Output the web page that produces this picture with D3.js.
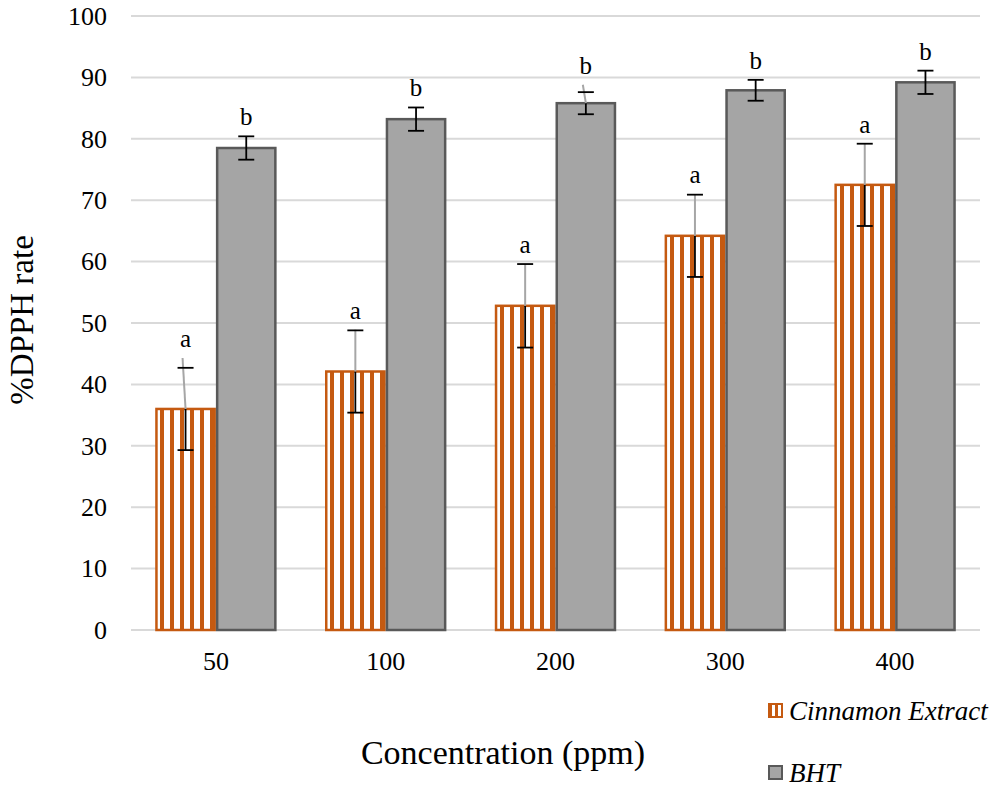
<!DOCTYPE html>
<html>
<head>
<meta charset="utf-8">
<script src="https://cdn.jsdelivr.net/npm/d3@7"></script>
<style>
  body { margin: 0; background: #fff; }
</style>
</head>
<body>
<svg></svg>
<script>
var concentrations = ["50", "100", "200", "300", "400"];
var seriesNames = ["Cinnamon Extract", "BHT"];
var cinnamon = [36.0, 42.1, 52.8, 64.2, 72.5];
var cinnamonErr = [6.7, 6.7, 6.8, 6.7, 6.7];
var cinnamonGrayTop = [44.3, 48.9, 59.6, 71.0, 79.2];
var bht = [78.5, 83.2, 85.8, 87.9, 89.2];
var bhtErr = [1.9, 1.9, 1.8, 1.7, 1.9];
var bhtGrayTop = [null, null, 88.8, null, null];
var cinnamonLetters = ["a", "a", "a", "a", "a"];
var bhtLetters = ["b", "b", "b", "b", "b"];
var yTicks = [0, 10, 20, 30, 40, 50, 60, 70, 80, 90, 100];

var width = 996, height = 792;
var margin = {top: 16, right: 16, bottom: 162, left: 131};
var serif = "Liberation Serif";

var svg = d3.select("svg")
    .attr("width", width)
    .attr("height", height)
    .attr("font-family", serif);

var defs = svg.append("defs");
var pat = defs.append("pattern")
    .attr("id", "stripes")
    .attr("patternUnits", "userSpaceOnUse")
    .attr("width", 10)
    .attr("height", 10);
pat.append("rect").attr("width", 10).attr("height", 10).attr("fill", "#fff");
pat.append("rect").attr("x", 0).attr("width", 4).attr("height", 10).attr("fill", "#C55A11");

var pat2 = defs.append("pattern")
    .attr("id", "stripesLegend")
    .attr("patternUnits", "userSpaceOnUse")
    .attr("width", 6)
    .attr("height", 10);
pat2.append("rect").attr("width", 6).attr("height", 10).attr("fill", "#fff");
pat2.append("rect").attr("width", 3).attr("height", 10).attr("fill", "#C55A11");

var x0 = d3.scaleBand()
    .domain(concentrations)
    .range([margin.left, width - margin.right])
    .paddingInner(0.285)
    .paddingOuter(0.1425);

var x1 = d3.scaleBand()
    .domain(seriesNames)
    .range([0, x0.bandwidth()]);

var y = d3.scaleLinear()
    .domain([0, 100])
    .range([height - margin.bottom, margin.top]);

// gridlines
svg.append("g")
    .selectAll("line")
    .data(yTicks)
    .enter()
    .append("line")
    .attr("x1", margin.left)
    .attr("x2", width - margin.right)
    .attr("y1", function (d) { return y(d); })
    .attr("y2", function (d) { return y(d); })
    .attr("stroke", "#D9D9D9")
    .attr("stroke-width", 2);

// y tick labels
svg.append("g")
    .selectAll("text")
    .data(yTicks)
    .enter()
    .append("text")
    .attr("x", 107)
    .attr("y", function (d) { return y(d); })
    .attr("dy", "0.34em")
    .attr("text-anchor", "end")
    .attr("font-family", serif)
    .attr("font-size", 26)
    .text(function (d) { return d; });

// x tick labels
svg.append("g")
    .selectAll("text")
    .data(concentrations)
    .enter()
    .append("text")
    .attr("x", function (d) { return x0(d) + x0.bandwidth() / 2; })
    .attr("y", 670)
    .attr("text-anchor", "middle")
    .attr("font-family", serif)
    .attr("font-size", 26)
    .text(function (d) { return d; });

var rows = concentrations.map(function (c, i) {
    return [
        {cat: c, key: seriesNames[0], v: cinnamon[i], err: cinnamonErr[i], gray: cinnamonGrayTop[i], letter: cinnamonLetters[i]},
        {cat: c, key: seriesNames[1], v: bht[i], err: bhtErr[i], gray: bhtGrayTop[i], letter: bhtLetters[i]}
    ];
});
var flat = d3.merge(rows);

function cx(d) { return x0(d.cat) + x1(d.key) + x1.bandwidth() / 2; }

// bars
svg.append("g")
    .selectAll("rect")
    .data(flat)
    .enter()
    .append("rect")
    .attr("x", function (d) { return x0(d.cat) + x1(d.key) + 1.25; })
    .attr("y", function (d) { return y(d.v); })
    .attr("width", x1.bandwidth() - 2.5)
    .attr("height", function (d) { return y(0) - y(d.v); })
    .attr("fill", function (d) { return d.key === seriesNames[0] ? "url(#stripes)" : "#A5A5A5"; })
    .attr("stroke", function (d) { return d.key === seriesNames[0] ? "#C55A11" : "#595959"; })
    .attr("stroke-width", 2.5);

// error bars
var eb = svg.append("g").selectAll("g")
    .data(flat)
    .enter()
    .append("g");

eb.append("line")
    .attr("x1", cx).attr("x2", cx)
    .attr("y1", function (d) { return y(d.v - d.err); })
    .attr("y2", function (d) { return d.gray == null ? y(d.v + d.err) : y(d.v); })
    .attr("stroke", "#000")
    .attr("stroke-width", 1.8);

eb.filter(function (d) { return d.gray != null; })
    .append("line")
    .attr("x1", function (d) { return cx(d) - (d.gray - d.v - d.err > 1 ? 3 : 0); })
    .attr("x2", cx)
    .attr("y1", function (d) { return y(d.gray); })
    .attr("y2", function (d) { return y(d.v); })
    .attr("stroke", "#A6A6A6")
    .attr("stroke-width", 2);

[-1, 1].forEach(function (s) {
    eb.append("line")
        .attr("x1", function (d) { return cx(d) - 8; })
        .attr("x2", function (d) { return cx(d) + 8; })
        .attr("y1", function (d) { return y(d.v + s * d.err); })
        .attr("y2", function (d) { return y(d.v + s * d.err); })
        .attr("stroke", "#000")
        .attr("stroke-width", 1.8);
});

// significance letters
svg.append("g")
    .selectAll("text")
    .data(flat)
    .enter()
    .append("text")
    .attr("x", cx)
    .attr("y", function (d) { return y(Math.max(d.v + d.err, d.gray || 0)) - 11; })
    .attr("text-anchor", "middle")
    .attr("font-family", serif)
    .attr("font-size", 25)
    .text(function (d) { return d.letter; });

// axis titles
svg.append("text")
    .attr("transform", "translate(33,320) rotate(-90)")
    .attr("text-anchor", "middle")
    .attr("font-family", serif)
    .attr("font-size", 33)
    .text("%DPPH rate");

svg.append("text")
    .attr("x", 503)
    .attr("y", 764)
    .attr("text-anchor", "middle")
    .attr("font-family", serif)
    .attr("font-size", 34)
    .text("Concentration (ppm)");

// legend
var legend = svg.append("g")
    .selectAll("g")
    .data(seriesNames)
    .enter()
    .append("g")
    .attr("transform", function (d, i) { return "translate(769," + (i === 0 ? 720 : 782) + ")"; });

legend.append("rect")
    .attr("x", 0)
    .attr("y", -16)
    .attr("width", 13)
    .attr("height", 13)
    .attr("fill", function (d, i) { return i === 0 ? "url(#stripesLegend)" : "#A5A5A5"; })
    .attr("stroke", function (d, i) { return i === 0 ? "#C55A11" : "#595959"; })
    .attr("stroke-width", 2);

legend.append("text")
    .attr("x", 20)
    .attr("font-family", serif)
    .attr("font-size", 27)
    .attr("font-style", "italic")
    .text(function (d) { return d; });
</script>
</body>
</html>
